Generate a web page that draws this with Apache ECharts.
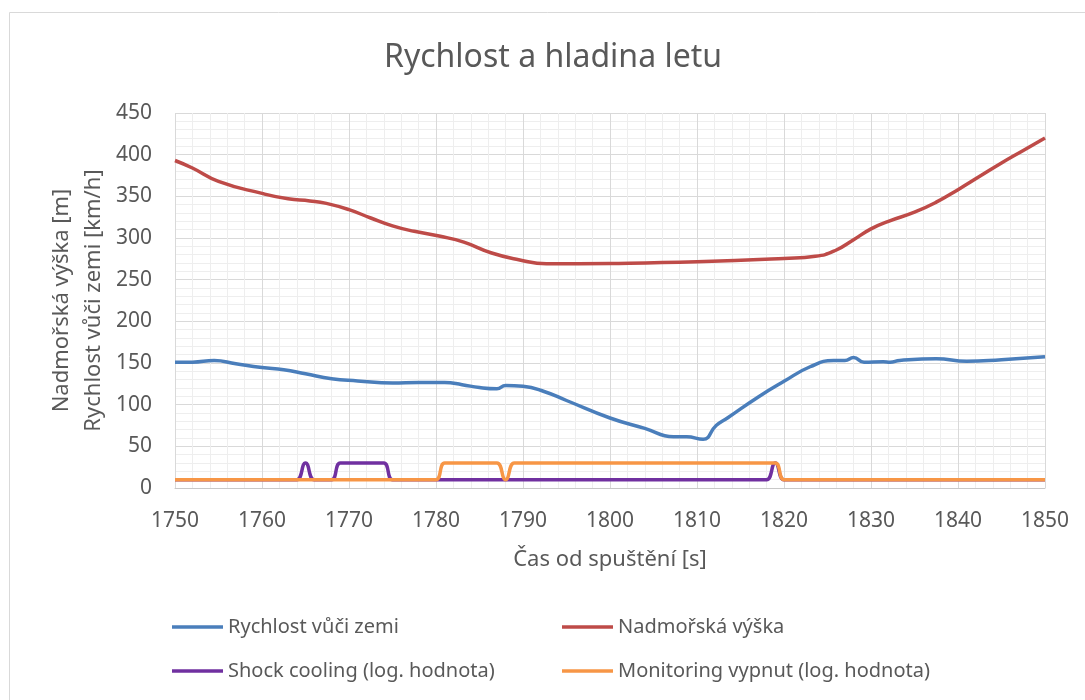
<!DOCTYPE html>
<html>
<head>
<meta charset="utf-8">
<script src="https://cdn.jsdelivr.net/npm/echarts@6/dist/echarts.min.js"></script>
<style>html,body{margin:0;padding:0;background:#fff}#c{width:1085px;height:700px}</style>
</head>
<body>
<div id="c"></div>
<script>
// ---- data ----
var speedTime = [1750, 1752, 1754.5, 1757, 1760, 1762.5, 1765, 1768, 1771, 1775, 1778, 1781, 1783, 1785, 1787, 1788, 1790, 1792.5, 1795, 1800, 1804, 1807.3, 1808.8, 1810.7, 1812.2, 1813.5, 1817, 1820, 1823, 1825.7, 1827, 1828, 1829.2, 1831.4, 1832.2, 1833.3, 1837.5, 1841, 1845, 1850];
var speedVal  = [151, 151, 153, 149, 144.5, 142, 137, 131, 128.5, 126, 126.5, 126.5, 124, 120.5, 119, 123, 122, 115.5, 105, 84, 71.5, 61.5, 61.5, 58.5, 75, 84, 109, 128, 145.5, 153, 153, 156.5, 151, 151.5, 151, 153, 155, 152, 154, 157.5];

var altTime = [1750, 1752, 1755, 1760, 1763, 1765.5, 1767.4, 1770, 1772.5, 1775, 1777.5, 1780.5, 1783.2, 1786.4, 1789.5, 1792.7, 1800, 1810, 1820, 1823.6, 1825.9, 1828, 1830, 1832, 1835, 1837.5, 1840, 1842.5, 1845, 1847.5, 1850];
var altVal  = [393, 384, 368, 353.5, 347, 344.5, 341.5, 334, 324, 314.5, 308, 302, 295, 282, 274, 269, 269.5, 271.5, 275.5, 278, 285, 298, 311, 320, 331, 343, 358, 374, 390, 405, 420];

var shockTime = [1750, 1763, 1764, 1765, 1766, 1767, 1768, 1769, 1770, 1773, 1774, 1775, 1776, 1777, 1817, 1818, 1819, 1820, 1821, 1850];
var shockVal  = [10, 10, 10, 30, 10, 10, 10, 30, 30, 30, 30, 10, 10, 10, 10, 10, 30, 10, 10, 10];

var monTime = [1750, 1779, 1780, 1781, 1782, 1786, 1787, 1788, 1789, 1790, 1817, 1818, 1819, 1820, 1821, 1850];
var monVal  = [10, 10, 10, 30, 30, 30, 30, 10, 30, 30, 30, 30, 30, 10, 10, 10];

var seriesNames = ['Rychlost vůči zemi', 'Nadmořská výška', 'Shock cooling (log. hodnota)', 'Monitoring vypnut (log. hodnota)'];
var seriesColors = ['#4a7ebb', '#be4b48', '#7030a0', '#f79646'];
var titleText = 'Rychlost a hladina letu';
var xName = 'Čas od spuštění [s]';
var yName = 'Nadmořská výška [m]\nRychlost vůči zemi [km/h]';

function pairs(t, v) { return t.map(function (x, i) { return [x, v[i]]; }); }

var FONT = 'Noto Sans';
var TXT = '#595959';
var chart = echarts.init(document.getElementById('c'), null, { renderer: 'canvas' });

var seriesData = [pairs(speedTime, speedVal), pairs(altTime, altVal), pairs(shockTime, shockVal), pairs(monTime, monVal)];

var legendPos = [[172, 617], [562, 617], [172, 661], [562, 661]];

chart.setOption({
  animation: false,
  backgroundColor: '#ffffff',
  title: {
    text: titleText, left: 379, top: 37,
    textStyle: { fontFamily: FONT, fontSize: 32, fontWeight: 'normal', color: TXT }
  },
  graphic: [{
    type: 'rect', silent: true, z: -10,
    shape: { x: 9.5, y: 12.5, width: 1200, height: 900 },
    style: { fill: null, stroke: '#d9d9d9', lineWidth: 1 }
  }],
  legend: seriesNames.map(function (n, i) {
    return {
      data: [n], left: legendPos[i][0], top: legendPos[i][1], padding: 0,
      icon: 'rect', itemWidth: 51, itemHeight: 3.5,
      textStyle: { fontFamily: FONT, fontSize: 20, color: TXT }
    };
  }),
  grid: { left: 175, right: 40, top: 113, bottom: 212, containLabel: false },
  xAxis: {
    type: 'value', min: 1750, max: 1850, interval: 10,
    name: xName, nameLocation: 'middle', nameGap: 61, nameMoveOverlap: false,
    nameTextStyle: { fontFamily: FONT, fontSize: 22, color: TXT },
    axisLine: { show: true, lineStyle: { color: '#c8c8c8', width: 1 } },
    axisTick: { show: false },
    axisLabel: { margin: 23, fontFamily: FONT, fontSize: 21, color: TXT, formatter: function (v) { return String(v); } },
    splitLine: { show: true, lineStyle: { color: '#d9d9d9', width: 1 } },
    minorTick: { show: false, splitNumber: 5 },
    minorSplitLine: { show: true, lineStyle: { color: '#eeeeee', width: 1 } }
  },
  yAxis: {
    type: 'value', min: 0, max: 450, interval: 50,
    name: yName, nameLocation: 'middle', nameGap: 65, nameRotate: 90, nameMoveOverlap: false,
    nameTextStyle: { fontFamily: FONT, fontSize: 22, color: TXT, lineHeight: 32 },
    axisLine: { show: false },
    axisTick: { show: false },
    axisLabel: { margin: 23, fontFamily: FONT, fontSize: 21, color: TXT },
    splitLine: { show: true, lineStyle: { color: '#d9d9d9', width: 1 } },
    minorTick: { show: false, splitNumber: 5 },
    minorSplitLine: { show: true, lineStyle: { color: '#eeeeee', width: 1 } }
  },
  series: seriesNames.map(function (n, i) {
    return {
      name: n, type: 'line', data: seriesData[i], smooth: 0.5,
      showSymbol: false, symbol: 'none', color: seriesColors[i],
      lineStyle: { width: 3.5, color: seriesColors[i] },
      z: 2 + i
    };
  })
});
</script>
</body>
</html>
